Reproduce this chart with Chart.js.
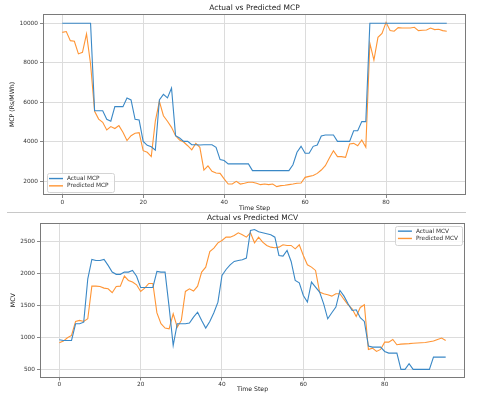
<!DOCTYPE html>
<html>
<head>
<meta charset="utf-8">
<script src="https://cdn.jsdelivr.net/npm/chart.js@4.4.1/dist/chart.umd.min.js"></script>
<style>
  html, body { margin: 0; padding: 0; background: #fff; }
  #wrap { position: relative; width: 480px; height: 396px; overflow: hidden; }
  #top-box { position: absolute; left: 0; top: 0; width: 480px; height: 212px; }
  #bottom-box { position: absolute; left: 0; top: 212px; width: 480px; height: 184px; }
  #sep { position: absolute; left: 7px; top: 212px; width: 459px; height: 0; border-top: 1px solid #c8c8c8; }
</style>
</head>
<body>
<div id="wrap">
  <div id="top-box"><canvas id="mcp-chart" width="480" height="212"></canvas></div>
  <div id="bottom-box"><canvas id="mcv-chart" width="480" height="184"></canvas></div>
  <div id="sep"></div>
</div>
<script>
// дані
const xTicks = [0, 20, 40, 60, 80];
const mcpTicks = [2000, 4000, 6000, 8000, 10000];
const mcvTicks = [500, 1000, 1500, 2000, 2500];

const actualMcp = [
  10000, 10000, 10000, 10000, 10000, 10000, 10000, 10000,
  5570, 5570, 5570, 5140, 5040, 5780, 5780, 5780, 6220, 6120,
  5140, 5100, 4020, 3820, 3750, 3580, 6120, 6400, 6220, 6720,
  4310, 4190, 4020, 4020, 3850, 3850, 3840, 3850, 3850, 3850,
  3720, 3100, 3050, 2880, 2880, 2880, 2880, 2880, 2880, 2540,
  2540, 2540, 2540, 2540, 2540, 2540, 2540, 2540, 2540, 2840,
  3470, 3770, 3420, 3420, 3770, 3840, 4290, 4340, 4340, 4340,
  4020, 4020, 4020, 4020, 4560, 4560, 5020, 5020,
  10000, 10000, 10000, 10000, 10000, 10000, 10000, 10000, 10000, 10000,
  10000, 10000, 10000, 10000, 10000, 10000, 10000, 10000, 10000, 10000
];
const predictedMcp = [
  9540, 9580, 9120, 9090, 8450, 8530, 9460, 7940, 5540, 5150,
  4990, 4600, 4770, 4670, 4820, 4480, 4060, 4310, 4430, 4460,
  3550, 3470, 3250, 5050, 6050, 5320, 5040, 4730, 4310, 4090,
  3990, 3800, 3590, 3920, 3720, 2570, 2780, 2510, 2420, 2400,
  2120, 1860, 1860, 2000, 1860, 1900, 1950, 1950, 1900, 1830,
  1860, 1830, 1860, 1730, 1780, 1800, 1830, 1860, 1900, 1910,
  2200, 2250, 2290, 2400, 2570, 2790, 3180, 3550, 3250, 3250,
  3210, 3890, 3920, 3800, 4090, 3720, 8990, 8140, 9290, 9490,
  10050, 9630, 9600, 9780, 9760, 9760, 9760, 9800, 9630, 9650,
  9660, 9760, 9680, 9700, 9630, 9600
];
const actualMcv = [
  964, 953, 953, 953, 1215, 1215, 1240, 1920, 2223, 2207,
  2207, 2223, 2130, 2025, 1990, 1990, 2025, 2025, 2050, 1960,
  1784, 1784, 1784, 1784, 2035, 2025, 2025, 1476, 875, 1215,
  1215, 1215, 1225, 1319, 1397, 1267, 1147, 1251, 1387, 1554,
  1972, 2066, 2139, 2192, 2207, 2218, 2244, 2678, 2693, 2657,
  2641, 2625, 2610, 2573, 2286, 2275, 2364, 2192, 1894, 1857,
  1659, 1554, 1868, 1789, 1711, 1528, 1293, 1387, 1476, 1737,
  1648, 1528, 1424, 1434, 1310, 1251, 865, 849, 849, 849,
  781, 755, 755, 755, 499, 499, 588, 499, 499, 499,
  499, 499, 692, 692, 692, 692
];
const predictedMcv = [
  917, 943, 995, 1032, 1251, 1267, 1251, 1293, 1805, 1805,
  1800, 1774, 1763, 1701, 1800, 1805, 1962, 1894, 1868, 1826,
  1722, 1774, 1847, 1847, 1385, 1215, 1147, 1136, 1371, 1162,
  1267, 1722, 1763, 1727, 1805, 2025, 2103, 2348, 2401, 2484,
  2520, 2573, 2573, 2599, 2641, 2610, 2573, 2641, 2484, 2573,
  2495, 2443, 2416, 2406, 2416, 2453, 2443, 2443, 2390, 2453,
  2286, 2139, 2103, 2051, 1711, 1685, 1669, 1648, 1685, 1685,
  1596, 1512, 1450, 1330, 1470, 1512, 812, 833, 781, 812,
  927, 927, 969, 886, 896, 900, 903, 908, 912, 917,
  922, 932, 943, 969, 990, 953
];

const FONT = 'DejaVu Sans';
const BLUE = '#3a88c6';
const ORANGE = '#ff9535';

// рамка навколо області графіка, як у matplotlib
const framePlugin = {
  id: 'frame',
  afterDatasetsDraw(chart) {
    const a = chart.chartArea;
    const ctx = chart.ctx;
    ctx.save();
    ctx.strokeStyle = '#7a7a7a';
    ctx.lineWidth = 1;
    ctx.strokeRect(Math.round(a.left) + 0.5, Math.round(a.top) + 0.5,
                   Math.round(a.right - a.left) - 1, Math.round(a.bottom - a.top) - 1);
    ctx.restore();
  }
};

// легенда всередині області графіка
const innerLegend = {
  id: 'innerLegend',
  afterDraw(chart, args, opts) {
    const ctx = chart.ctx;
    const a = chart.chartArea;
    const sets = chart.data.datasets;
    ctx.save();
    ctx.font = opts.fontSize + 'px "' + FONT + '"';
    let textW = 0;
    sets.forEach(ds => { textW = Math.max(textW, ctx.measureText(ds.label).width); });
    const w = opts.lineLen + opts.gap + textW + opts.padX * 2 + 2;
    const h = sets.length * opts.rowH + opts.padY * 2;
    const x = opts.corner.includes('right') ? a.right - opts.margin - w : a.left + opts.margin;
    const y = opts.corner.includes('bottom') ? a.bottom - opts.margin - h : a.top + opts.margin;
    ctx.fillStyle = 'rgba(255,255,255,0.85)';
    ctx.strokeStyle = '#d4d4d4';
    ctx.lineWidth = 1;
    ctx.beginPath();
    ctx.roundRect(Math.round(x) + 0.5, Math.round(y) + 0.5, Math.round(w), Math.round(h), 2);
    ctx.fill();
    ctx.stroke();
    sets.forEach((ds, i) => {
      const cy = y + opts.padY + opts.rowH * (i + 0.5);
      ctx.strokeStyle = ds.borderColor;
      ctx.lineWidth = 1.4;
      ctx.beginPath();
      ctx.moveTo(x + opts.padX, cy);
      ctx.lineTo(x + opts.padX + opts.lineLen, cy);
      ctx.stroke();
      ctx.fillStyle = '#333';
      ctx.textBaseline = 'middle';
      ctx.textAlign = 'left';
      ctx.fillText(ds.label, x + opts.padX + opts.lineLen + opts.gap, cy);
    });
    ctx.restore();
  }
};

function toPoints(values) {
  return values.map((v, i) => ({ x: i, y: v }));
}

function makeChart(id, cfg) {
  const ctx = document.getElementById(id).getContext('2d');
  return new Chart(ctx, {
    type: 'line',
    data: {
      datasets: [
        { label: cfg.labels[0], data: toPoints(cfg.actual), borderColor: BLUE, borderWidth: 1.1,
          pointRadius: 0, fill: false, tension: 0 },
        { label: cfg.labels[1], data: toPoints(cfg.predicted), borderColor: ORANGE, borderWidth: 1.1,
          pointRadius: 0, fill: false, tension: 0 }
      ]
    },
    options: {
      responsive: false,
      animation: false,
      devicePixelRatio: 1,
      layout: { padding: { left: 0, right: cfg.padRight, top: 0, bottom: 0 } },
      plugins: {
        legend: { display: false },
        tooltip: { enabled: false },
        title: {
          display: true,
          text: cfg.title,
          fullSize: false,
          color: '#222',
          font: { family: FONT, size: 7.5, weight: 'normal' },
          padding: cfg.titlePad
        },
        innerLegend: cfg.legend
      },
      scales: {
        x: {
          type: 'linear',
          min: -4.75,
          max: 99.75,
          afterBuildTicks: s => { s.ticks = xTicks.map(v => ({ value: v })); },
          afterFit: s => { s.height = cfg.xHeight; },
          ticks: { color: '#333', font: { family: FONT, size: 5.8 }, padding: 1,
                   maxRotation: 0, autoSkip: false, callback: v => String(v) },
          grid: { color: '#dcdcdc', tickColor: '#888', tickLength: 3 },
          border: { display: false },
          title: { display: true, text: 'Time Step', color: '#222',
                   font: { family: FONT, size: 6.2 }, padding: { top: 0, bottom: cfg.xTitleBottom } }
        },
        y: {
          min: cfg.yMin,
          max: cfg.yMax,
          afterBuildTicks: s => { s.ticks = cfg.yTicks.map(v => ({ value: v })); },
          afterFit: s => { s.width = cfg.yWidth; },
          ticks: { color: '#333', font: { family: FONT, size: 5.8 }, padding: 2, callback: v => String(v) },
          grid: { color: '#dcdcdc', tickColor: '#888', tickLength: 3 },
          border: { display: false },
          title: { display: true, text: cfg.yTitle, color: '#222',
                   font: { family: FONT, size: 6.2 }, padding: { top: cfg.yTitleTop, bottom: 0 } }
        }
      }
    },
    plugins: [framePlugin, innerLegend]
  });
}

makeChart('mcp-chart', {
  title: 'Actual vs Predicted MCP',
  labels: ['Actual MCP', 'Predicted MCP'],
  actual: actualMcp,
  predicted: predictedMcp,
  yTicks: mcpTicks,
  yMin: 1306, yMax: 10470,
  yTitle: 'MCP (Rs/MWh)',
  padRight: 14,
  titlePad: { top: 3.5, bottom: 1.5 },
  xHeight: 17,
  xTitleBottom: 0,
  yWidth: 43,
  yTitleTop: 9,
  legend: { corner: 'bottom-left', margin: 3.5, fontSize: 5.8, rowH: 7.3, padX: 2.5, padY: 2, lineLen: 14, gap: 4 }
});

makeChart('mcv-chart', {
  title: 'Actual vs Predicted MCV',
  labels: ['Actual MCV', 'Predicted MCV'],
  actual: actualMcv,
  predicted: predictedMcv,
  yTicks: mcvTicks,
  yMin: 372, yMax: 2795,
  yTitle: 'MCV',
  padRight: 15,
  titlePad: { top: 1.5, bottom: 0.5 },
  xHeight: 18.5,
  xTitleBottom: 3.3,
  yWidth: 40,
  yTitleTop: 9.6,
  legend: { corner: 'top-right', margin: 2.5, fontSize: 5.8, rowH: 7.3, padX: 2.5, padY: 2, lineLen: 14, gap: 4 }
});
</script>
</body>
</html>
